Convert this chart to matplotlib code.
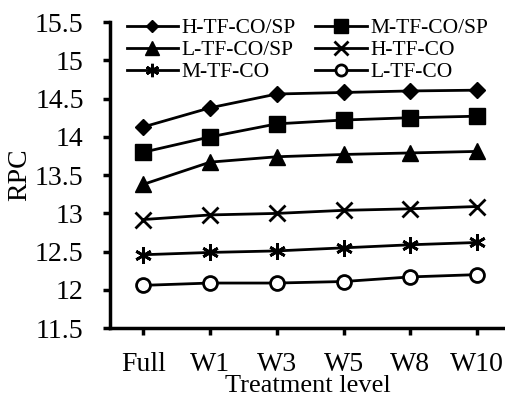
import matplotlib as mpl
mpl.use('Agg')
import matplotlib.pyplot as plt

levels = ['Full', 'W1', 'W3', 'W5', 'W8', 'W10']
h_tf_co_sp = [14.13, 14.38, 14.56, 14.58, 14.60, 14.61]
m_tf_co_sp = [13.80, 14.00, 14.17, 14.22, 14.25, 14.27]
l_tf_co_sp = [13.38, 13.67, 13.74, 13.77, 13.79, 13.81]
h_tf_co = [12.92, 12.98, 13.00, 13.04, 13.06, 13.09]
m_tf_co = [12.46, 12.49, 12.51, 12.55, 12.59, 12.62]
l_tf_co = [12.06, 12.09, 12.09, 12.11, 12.17, 12.20]

plt.rcParams['font.family'] = 'Liberation Serif'

fig = plt.figure(figsize=(5.05, 3.94), dpi=100)
ax = fig.add_axes([0.218, 0.167, 0.782, 0.777])

x = list(range(len(levels)))
l1, = ax.plot(x, h_tf_co_sp, 'k-', marker='D', ms=8, lw=2, label='H-TF-CO/SP')
l2, = ax.plot(x, m_tf_co_sp, 'k-', marker='s', ms=12, lw=2, label='M-TF-CO/SP')
l3, = ax.plot(x, l_tf_co_sp, 'k-', marker='^', ms=12, lw=2, label='L-TF-CO/SP')
l4, = ax.plot(x, h_tf_co, 'k-', marker='x', ms=12, mew=2, lw=2, label='H-TF-CO')
l5, = ax.plot(x, m_tf_co, 'k-', marker=(6, 2, 0), ms=12, mew=2, lw=2, label='M-TF-CO')
l6, = ax.plot(x, l_tf_co, 'k-', marker='o', ms=10, mfc='white', mew=2, lw=2, label='L-TF-CO')

ax.set_ylim(11.5, 15.5)
ax.set_yticks([11.5, 12, 12.5, 13, 13.5, 14, 14.5, 15, 15.5])
ax.set_yticklabels(['11.5', '12', '12.5', '13', '13.5', '14', '14.5', '15', '15.5'])
ax.set_xlim(-0.5, 5.42)
ax.set_xticks(x)
ax.set_xticklabels(levels)

for s in ['top', 'right']:
    ax.spines[s].set_visible(False)
for s in ['left', 'bottom']:
    ax.spines[s].set_linewidth(2.5)
ax.tick_params(axis='both', labelsize=20, width=2.5, length=5, direction='out', colors='black')
ax.tick_params(axis='x', pad=12)
ax.tick_params(axis='y', pad=14)

ax.set_ylabel('RPC', fontsize=20, labelpad=2)
ax.set_xlabel('Treatment level', fontsize=19, labelpad=-1)

# row-wise order like the original
handles = [l1, l3, l5, l2, l4, l6]
ax.legend(handles, [h.get_label() for h in handles], ncol=2, frameon=False, fontsize=15.5,
          loc='upper left', bbox_to_anchor=(0.02, 1.04), handlelength=2.4, handletextpad=0.15,
          columnspacing=0.9, labelspacing=0.08, borderaxespad=0, markerscale=0.8)

fig.savefig('out.png', dpi=100)
